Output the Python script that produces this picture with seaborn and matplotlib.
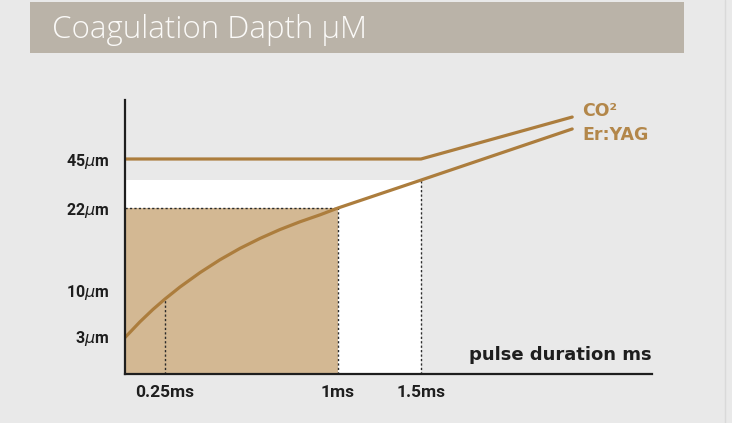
import numpy as np
import matplotlib
matplotlib.use("Agg")
import matplotlib.pyplot as plt
from matplotlib.patches import Rectangle
import seaborn as sns
import pandas as pd

# ---- data ----
title = "Coagulation Dapth µM"
x_label = "pulse duration ms"

x_tick_values = [0.25, 1.0, 1.5]
x_tick_labels = ["0.25ms", "1ms", "1.5ms"]
y_tick_values = [3, 10, 22, 45]
y_tick_labels = [r"3$\mu$m", r"10$\mu$m", r"22$\mu$m", r"45$\mu$m"]

# schematic (non-linear) axis: value anchors of the drawing's scale
x_scale_values = [0.0, 0.25, 1.0, 1.5, 2.875]
x_scale_pixels = [0, 40, 213, 296, 527]
y_scale_values = [0.0, 3.0, 10.0, 22.0, 45.0, 72.7]
y_scale_pixels = [0, 38, 84, 166, 215, 274]

eryag_ms = [0.0, 0.094, 0.175, 0.25, 0.315, 0.402, 0.488, 0.575, 0.662,
            0.748, 0.835, 0.922, 1.0, 1.5, 2.40]
eryag_um = [2.88, 5.17, 7.05, 8.63, 10.44, 12.55, 14.42, 16.09, 17.55,
            18.84, 19.98, 21.0, 22.0, 35.1, 59.1]
co2_ms = [0.0, 1.5, 2.40]
co2_um = [45.0, 45.0, 64.7]

series_names = ["CO²", "Er:YAG"]

# ---- style ----
BG = "#e9e9e9"
LINE = "#ac7d3d"
TAN = "#d3b893"
LABEL = "#b3874a"
DARK = "#1e1e1e"

sns.set_theme(style="white")
plt.rcParams["font.family"] = ["Roboto", "DejaVu Sans"]
plt.rcParams["mathtext.fontset"] = "dejavusans"

W, H = 732, 423
fig = plt.figure(figsize=(W / 100, H / 100), dpi=100)
fig.patch.set_facecolor(BG)

# title bar
fig.patches.append(Rectangle((30 / W, (H - 53) / H), 654 / W, 51 / H,
                             transform=fig.transFigure, facecolor="#bab3a8",
                             edgecolor="none", zorder=0))
fig.text(52 / W, (H - 38) / H, title, color="#fbfaf8", fontsize=22.5,
         family=["Open Sans", "Lato", "DejaVu Sans"], fontweight="light",
         va="baseline", ha="left")
# faint right frame line
fig.add_artist(plt.Line2D([725 / W, 725 / W], [0, 1], transform=fig.transFigure,
                          color="#d9d9d9", lw=1))

ax = fig.add_axes([125 / W, (H - 374) / H, 527 / W, 274 / H])
ax.set_facecolor("none")

fx = lambda v: np.interp(v, x_scale_values, x_scale_pixels)
ix = lambda p: np.interp(p, x_scale_pixels, x_scale_values)
fy = lambda v: np.interp(v, y_scale_values, y_scale_pixels)
iy = lambda p: np.interp(p, y_scale_pixels, y_scale_values)
ax.set_xscale("function", functions=(fx, ix))
ax.set_yscale("function", functions=(fy, iy))
ax.set_xlim(x_scale_values[0], x_scale_values[-1])
ax.set_ylim(y_scale_values[0], y_scale_values[-1])

# regions
er_at_15 = eryag_um[eryag_ms.index(1.5)]
er_at_025 = eryag_um[eryag_ms.index(0.25)]
ax.fill_between([0, 1.5], 0, er_at_15, color="white", lw=0, zorder=1)
ax.fill_between([0, 1.0], 0, 22, color=TAN, lw=0, zorder=2)

dot = dict(color="#2a2a2a", lw=1.0, ls=(0, (1.6, 1.6)), zorder=3)
ax.plot([0, 1.0], [22, 22], **dot)
ax.plot([1.0, 1.0], [0, 22], **dot)
ax.plot([0.25, 0.25], [0, er_at_025], **dot)
ax.plot([1.5, 1.5], [0, er_at_15], **dot)

df = pd.concat([
    pd.DataFrame({"ms": co2_ms, "um": co2_um, "laser": series_names[0]}),
    pd.DataFrame({"ms": eryag_ms, "um": eryag_um, "laser": series_names[1]}),
])
sns.lineplot(data=df, x="ms", y="um", hue="laser", palette=[LINE, LINE],
             sort=False, estimator=None, lw=2.3, legend=False, ax=ax, zorder=4)

lab_font = dict(color=LABEL, fontsize=12.5, fontweight="bold",
                family=["DejaVu Sans"], ha="left", va="center",
                textcoords="offset points", annotation_clip=False)
ax.annotate(series_names[0], (co2_ms[-1], co2_um[-1]), xytext=(7, 4), **lab_font)
ax.annotate(series_names[1], (eryag_ms[-1], eryag_um[-1]), xytext=(7, -4), **lab_font)

ax.text(1.0, (374 - 355) / 274, x_label, transform=ax.transAxes, ha="right",
        va="center", fontsize=13, fontweight="bold", color=DARK,
        family=["DejaVu Sans"])

ax.set_xticks(x_tick_values)
ax.set_xticklabels(x_tick_labels)
ax.set_yticks(y_tick_values)
ax.set_yticklabels(y_tick_labels)
ax.minorticks_off()
ax.tick_params(axis="x", length=0, pad=8, labelsize=12.5, colors=DARK)
ax.tick_params(axis="y", length=0, pad=11, labelsize=11.5, colors=DARK)
for t in ax.get_xticklabels() + ax.get_yticklabels():
    t.set_fontweight("bold")
ax.set_xlabel("")
ax.set_ylabel("")

for s in ["top", "right"]:
    ax.spines[s].set_visible(False)
for s in ["left", "bottom"]:
    ax.spines[s].set_color(DARK)
    ax.spines[s].set_linewidth(1.6)
    ax.spines[s].set_zorder(5)

fig.savefig("out.png", dpi=100, facecolor=BG)
